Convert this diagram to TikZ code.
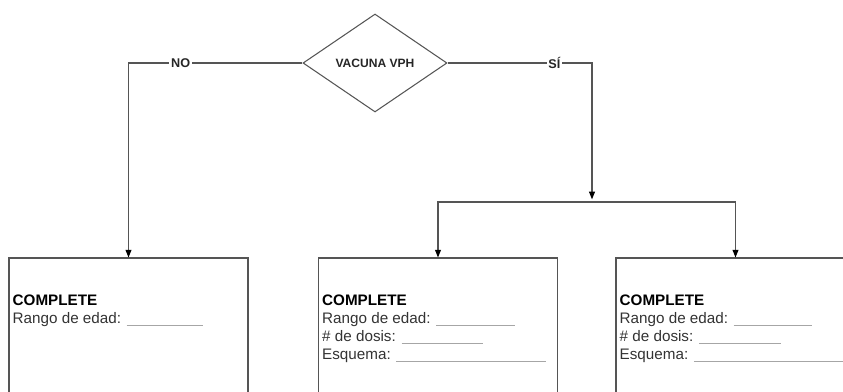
\documentclass[tikz,border=0pt]{standalone}
\usepackage{fontspec}
\setmainfont{Liberation Sans}
\usetikzlibrary{arrows.meta,positioning,shapes.geometric}
\definecolor{trazo}{HTML}{555555}
\definecolor{texto}{HTML}{333333}
\newcommand{\blanco}[1]{\textcolor{black!35}{\rule[-2pt]{#1}{0.6pt}}}

\begin{document}
\begin{tikzpicture}[x=0.3mm,y=-0.3mm,
  decision/.style={draw=trazo,line width=0.9pt,diamond,minimum width=43.2mm,minimum height=29.4mm,inner sep=0pt,text=black!85,font=\fontsize{10.3}{12}\selectfont\bfseries},
  caja/.style={draw=trazo,line width=0.9pt,rectangle,minimum width=71.7mm,minimum height=48mm,inner sep=0pt},
  campo/.style={anchor=north west,align=left,inner sep=0pt,text=texto,font=\fontsize{13}{15.3}\selectfont},
  rama/.style={draw=trazo,line width=0.9pt},
  flecha/.style={rama,-{Triangle[width=5pt,length=6.5pt,color=black]}},
  etiq/.style={fill=white,inner sep=1.5pt,text=black!85,font=\fontsize{10.8}{12}\selectfont\bfseries}]
  \useasboundingbox (0,0) rectangle (843,392);
  \clip (0,0) rectangle (843,392);

  % pregunta
  \node[decision] (vph) at (375,63) {VACUNA VPH};

  % cajas de respuesta
  \node[caja] (cajaNo) at (128.5,338) {};
  \node[caja] (cajaSiA) at (438,338) {};
  \node[caja] (cajaSiB) at (735.5,338) {};
  \coordinate (bif) at (592,202);

  \node[campo] (txtNo) at ([xshift=1.2mm,yshift=-11.2mm]cajaNo.north west)
    {\textbf{\textcolor{black}{COMPLETE}}\\ Rango de edad: \blanco{23mm}};
  \node[campo] (txtSiA) at ([xshift=1.2mm,yshift=-11.2mm]cajaSiA.north west)
    {\textbf{\textcolor{black}{COMPLETE}}\\ Rango de edad: \blanco{23.5mm}\\
     \# de dosis: \blanco{24.5mm}\\ Esquema: \blanco{45mm}};
  \node[campo] (txtSiB) at ([xshift=1.2mm,yshift=-11.2mm]cajaSiB.north west)
    {\textbf{\textcolor{black}{COMPLETE}}\\ Rango de edad: \blanco{23.5mm}\\
     \# de dosis: \blanco{24.5mm}\\ Esquema: \blanco{45mm}};

  % conectores
  \draw[flecha] (vph.west) -| node[pos=0.35,etiq] {NO} (cajaNo.north);
  \draw[flecha] (vph.east) -| node[pos=0.37,etiq] {SÍ} ([yshift=0.8mm]bif);
  \draw[flecha] (bif) -| (cajaSiA.north);
  \draw[flecha] (bif) -| (cajaSiB.north);
\end{tikzpicture}
\end{document}
